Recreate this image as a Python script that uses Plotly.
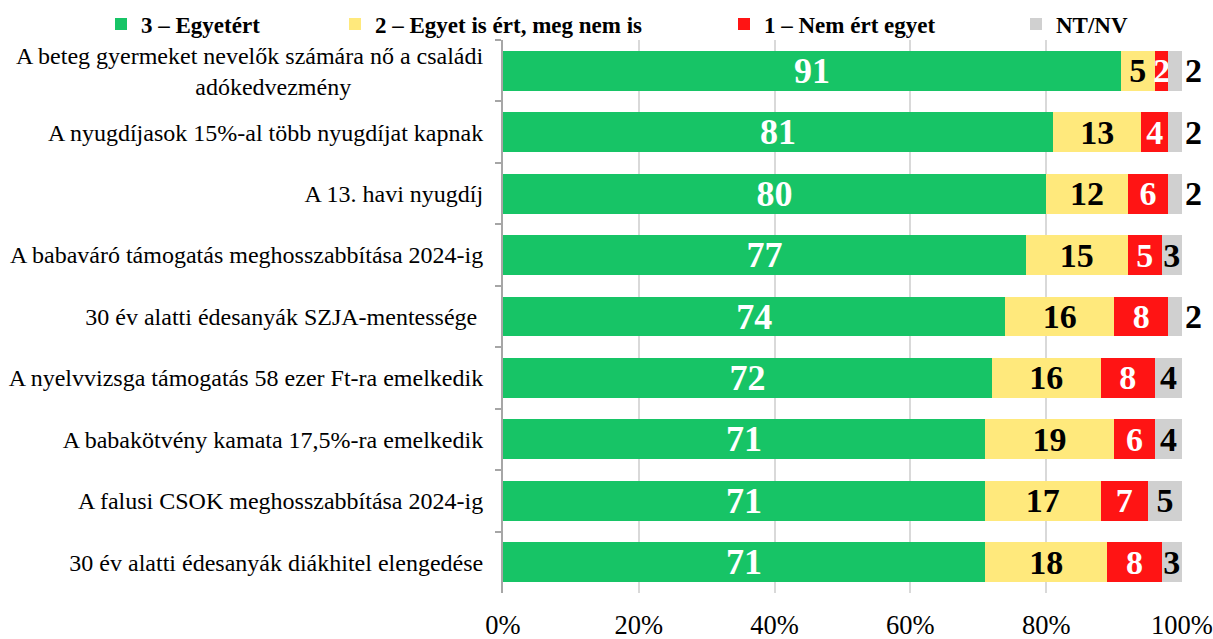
import plotly.graph_objects as go

NBSP = "\u00a0"
categories = [
    "A beteg gyermeket nevelők számára nő a családi<br>adókedvezmény" + NBSP * 22,
    "A nyugdíjasok 15%-al több nyugdíjat kapnak",
    "A 13. havi nyugdíj",
    "A babaváró támogatás meghosszabbítása 2024-ig",
    "30 év alatti édesanyák SZJA-mentessége" + NBSP,
    "A nyelvvizsga támogatás 58 ezer Ft-ra emelkedik",
    "A babakötvény kamata 17,5%-ra emelkedik",
    "A falusi CSOK meghosszabbítása 2024-ig",
    "30 év alatti édesanyák diákhitel elengedése",
]
agree = [91, 81, 80, 77, 74, 72, 71, 71, 71]
neutral = [5, 13, 12, 15, 16, 16, 19, 17, 18]
disagree = [2, 4, 6, 5, 8, 8, 6, 7, 8]
dontknow = [2, 2, 2, 3, 2, 4, 4, 5, 3]
x_ticks = [0, 20, 40, 60, 80, 100]

series_names = ["3 – Egyetért", "2 – Egyet is ért, meg nem is", "1 – Nem ért egyet", "NT/NV"]
colors = ["#17C466", "#FFE97C", "#FF1414", "#D0D0D0"]
text_colors = ["white", "black", "white", "black"]
text_sizes = [36, 34, 34, 34]
legend_ids = ["legend", "legend2", "legend3", "legend4"]

FONT = "Liberation Serif, Times New Roman, serif"

fig = go.Figure()
for i, vals in enumerate([agree, neutral, disagree, dontknow]):
    if i == 3:
        tpos = ["outside" if v <= 2 else "inside" for v in vals]
    else:
        tpos = "inside"
    tf = dict(family=FONT, size=text_sizes[i], color=text_colors[i], weight=700)
    fig.add_trace(go.Bar(
        y=categories, x=vals, orientation="h", name=series_names[i],
        marker=dict(color=colors[i], line=dict(width=0)),
        text=[str(v) for v in vals], textposition=tpos,
        insidetextanchor="middle", constraintext="none", textangle=0,
        textfont=tf, insidetextfont=tf, outsidetextfont=tf,
        cliponaxis=False, hoverinfo="skip", legend=legend_ids[i], showlegend=True,
    ))

plot_left, plot_right, plot_top, plot_bottom = 503, 1182, 40, 593
W, H = 1213, 639
pw = plot_right - plot_left
ph = plot_bottom - plot_top

def legend_cfg(text_px):
    return dict(
        x=(text_px - 40 - plot_left) / pw, xanchor="left",
        y=1 + (plot_top - 24) / ph, yanchor="middle",
        orientation="h", bgcolor="rgba(0,0,0,0)",
        font=dict(family=FONT, size=23, color="black", weight=700),
        itemwidth=30, traceorder="normal", visible=True,
    )

fig.update_layout(
    width=W, height=H, showlegend=True,
    margin=dict(l=plot_left, r=W - plot_right, t=plot_top, b=H - plot_bottom, pad=0,
                autoexpand=False),
    barmode="stack", bargap=0.35,
    paper_bgcolor="white", plot_bgcolor="white",
    font=dict(family=FONT, color="black"),
    legend=legend_cfg(141),
    legend2=legend_cfg(375),
    legend3=legend_cfg(764),
    legend4=legend_cfg(1056),
)
fig.update_xaxes(
    range=[0, 100], tickmode="array", tickvals=x_ticks,
    ticktext=[f"{v}%" for v in x_ticks],
    showgrid=True, gridcolor="#D9D9D9", gridwidth=1.5, zeroline=False,
    showline=False, ticks="", ticklabelstandoff=13, automargin=False,
    ticklabeloverflow="allow",
    tickfont=dict(family=FONT, size=26.5, color="black"),
)
fig.update_yaxes(
    type="category", autorange="reversed", automargin=False,
    showline=True, linecolor="#A6A6A6", linewidth=2,
    ticks="outside", tickson="boundaries", ticklen=6, tickcolor="#A6A6A6", tickwidth=2,
    ticklabelstandoff=13, showgrid=False,
    tickfont=dict(family=FONT, size=24, color="black"),
)

fig.write_html("out.html")
